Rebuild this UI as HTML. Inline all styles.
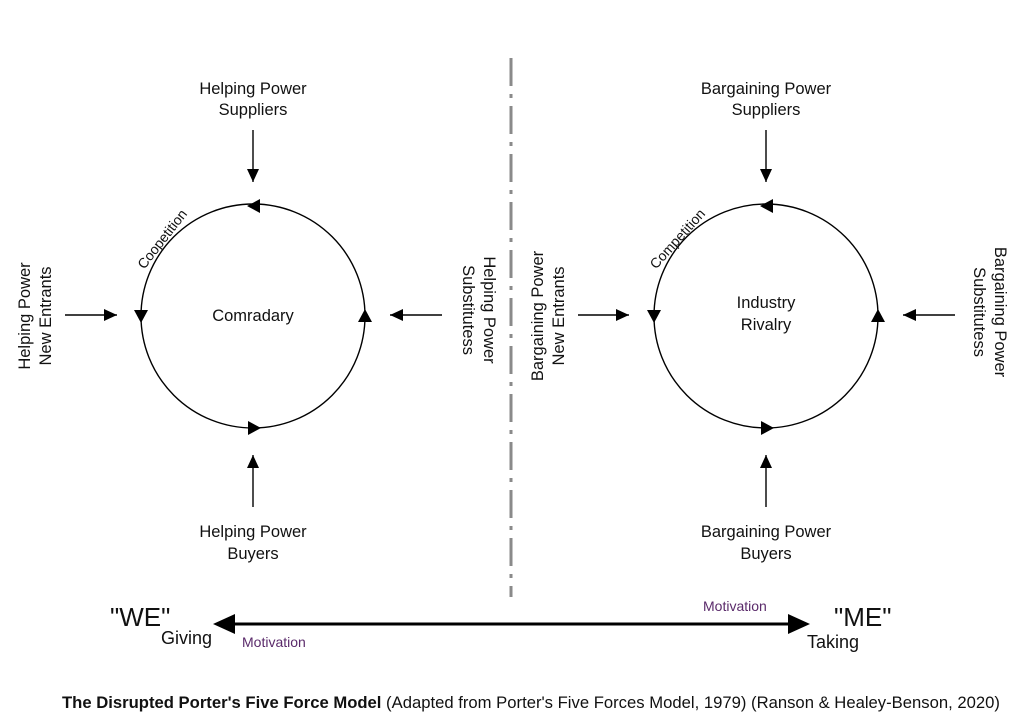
<!DOCTYPE html>
<html><head><meta charset="utf-8"><style>
html,body{margin:0;padding:0;background:#fff;}
svg{display:block;font-family:"Liberation Sans",sans-serif;}
</style></head><body>
<svg width="1024" height="724" viewBox="0 0 1024 724">
<defs>
<marker id="a" markerWidth="14" markerHeight="14" refX="13" refY="6" orient="auto" markerUnits="userSpaceOnUse"><path d="M0,0 L13,6 L0,12 z" fill="#000"/></marker>
</defs>
<line x1="511" y1="58" x2="511" y2="597" stroke="#8a8a8a" stroke-width="3" stroke-dasharray="28,8,4,8"/>
<g fill="none" stroke="#000" stroke-width="1.4">
<circle cx="253" cy="316" r="112"/>
<circle cx="766" cy="316" r="112"/>
<line x1="253" y1="130" x2="253" y2="182" marker-end="url(#a)"/>
<line x1="253" y1="507" x2="253" y2="455" marker-end="url(#a)"/>
<line x1="65" y1="315" x2="117" y2="315" marker-end="url(#a)"/>
<line x1="442" y1="315" x2="390" y2="315" marker-end="url(#a)"/>
<line x1="766" y1="130" x2="766" y2="182" marker-end="url(#a)"/>
<line x1="766" y1="507" x2="766" y2="455" marker-end="url(#a)"/>
<line x1="578" y1="315" x2="629" y2="315" marker-end="url(#a)"/>
<line x1="955" y1="315" x2="903" y2="315" marker-end="url(#a)"/>
</g>
<g fill="#000">
<path d="M247,206 l13,-7 v14 z"/><path d="M134,310 h14 l-7,13 z"/><path d="M261,428 l-13,-7 v14 z"/><path d="M358,322 h14 l-7,-13 z"/>
<path d="M760,206 l13,-7 v14 z"/><path d="M647,310 h14 l-7,13 z"/><path d="M774,428 l-13,-7 v14 z"/><path d="M871,322 h14 l-7,-13 z"/>
</g>
<g font-size="16.5" fill="#111" text-anchor="middle">
<text x="253" y="94">Helping Power</text><text x="253" y="115">Suppliers</text>
<text x="253" y="537">Helping Power</text><text x="253" y="559">Buyers</text>
<text x="253" y="321">Comradary</text>
<text x="766" y="94">Bargaining Power</text><text x="766" y="115">Suppliers</text>
<text x="766" y="537">Bargaining Power</text><text x="766" y="559">Buyers</text>
<text x="766" y="308">Industry</text><text x="766" y="330">Rivalry</text>
<text transform="translate(30,316) rotate(-90)">Helping Power</text>
<text transform="translate(51,316) rotate(-90)">New Entrants</text>
<text transform="translate(543,316) rotate(-90)">Bargaining Power</text>
<text transform="translate(564,316) rotate(-90)">New Entrants</text>
<text transform="translate(484,310) rotate(90)">Helping Power</text>
<text transform="translate(463,310) rotate(90)">Substitutess</text>
<text transform="translate(995,312) rotate(90)">Bargaining Power</text>
<text transform="translate(974,312) rotate(90)">Substitutess</text>
<text font-size="14" transform="translate(166,242) rotate(-52)">Coopetition</text>
<text font-size="14" transform="translate(681,242) rotate(-48)">Competition</text>
</g>
<line x1="228" y1="624" x2="795" y2="624" stroke="#000" stroke-width="3"/>
<path d="M213,624 l22,-10 v20 z M810,624 l-22,-10 v20 z" fill="#000"/>
<g fill="#111">
<text x="110" y="626" font-size="26">"WE"</text>
<text x="161" y="644" font-size="18">Giving</text>
<text x="834" y="626" font-size="26">"ME"</text>
<text x="807" y="648" font-size="18">Taking</text>
</g>
<g fill="#5a2a6a" font-size="14">
<text x="242" y="647">Motivation</text>
<text x="703" y="611">Motivation</text>
</g>
<text x="62" y="708" font-size="16.5" fill="#111" textLength="938" lengthAdjust="spacingAndGlyphs"><tspan font-weight="bold">The Disrupted Porter's Five Force Model</tspan> (Adapted from Porter's Five Forces Model, 1979) (Ranson &amp; Healey-Benson, 2020)</text>
</svg>
</body></html>
